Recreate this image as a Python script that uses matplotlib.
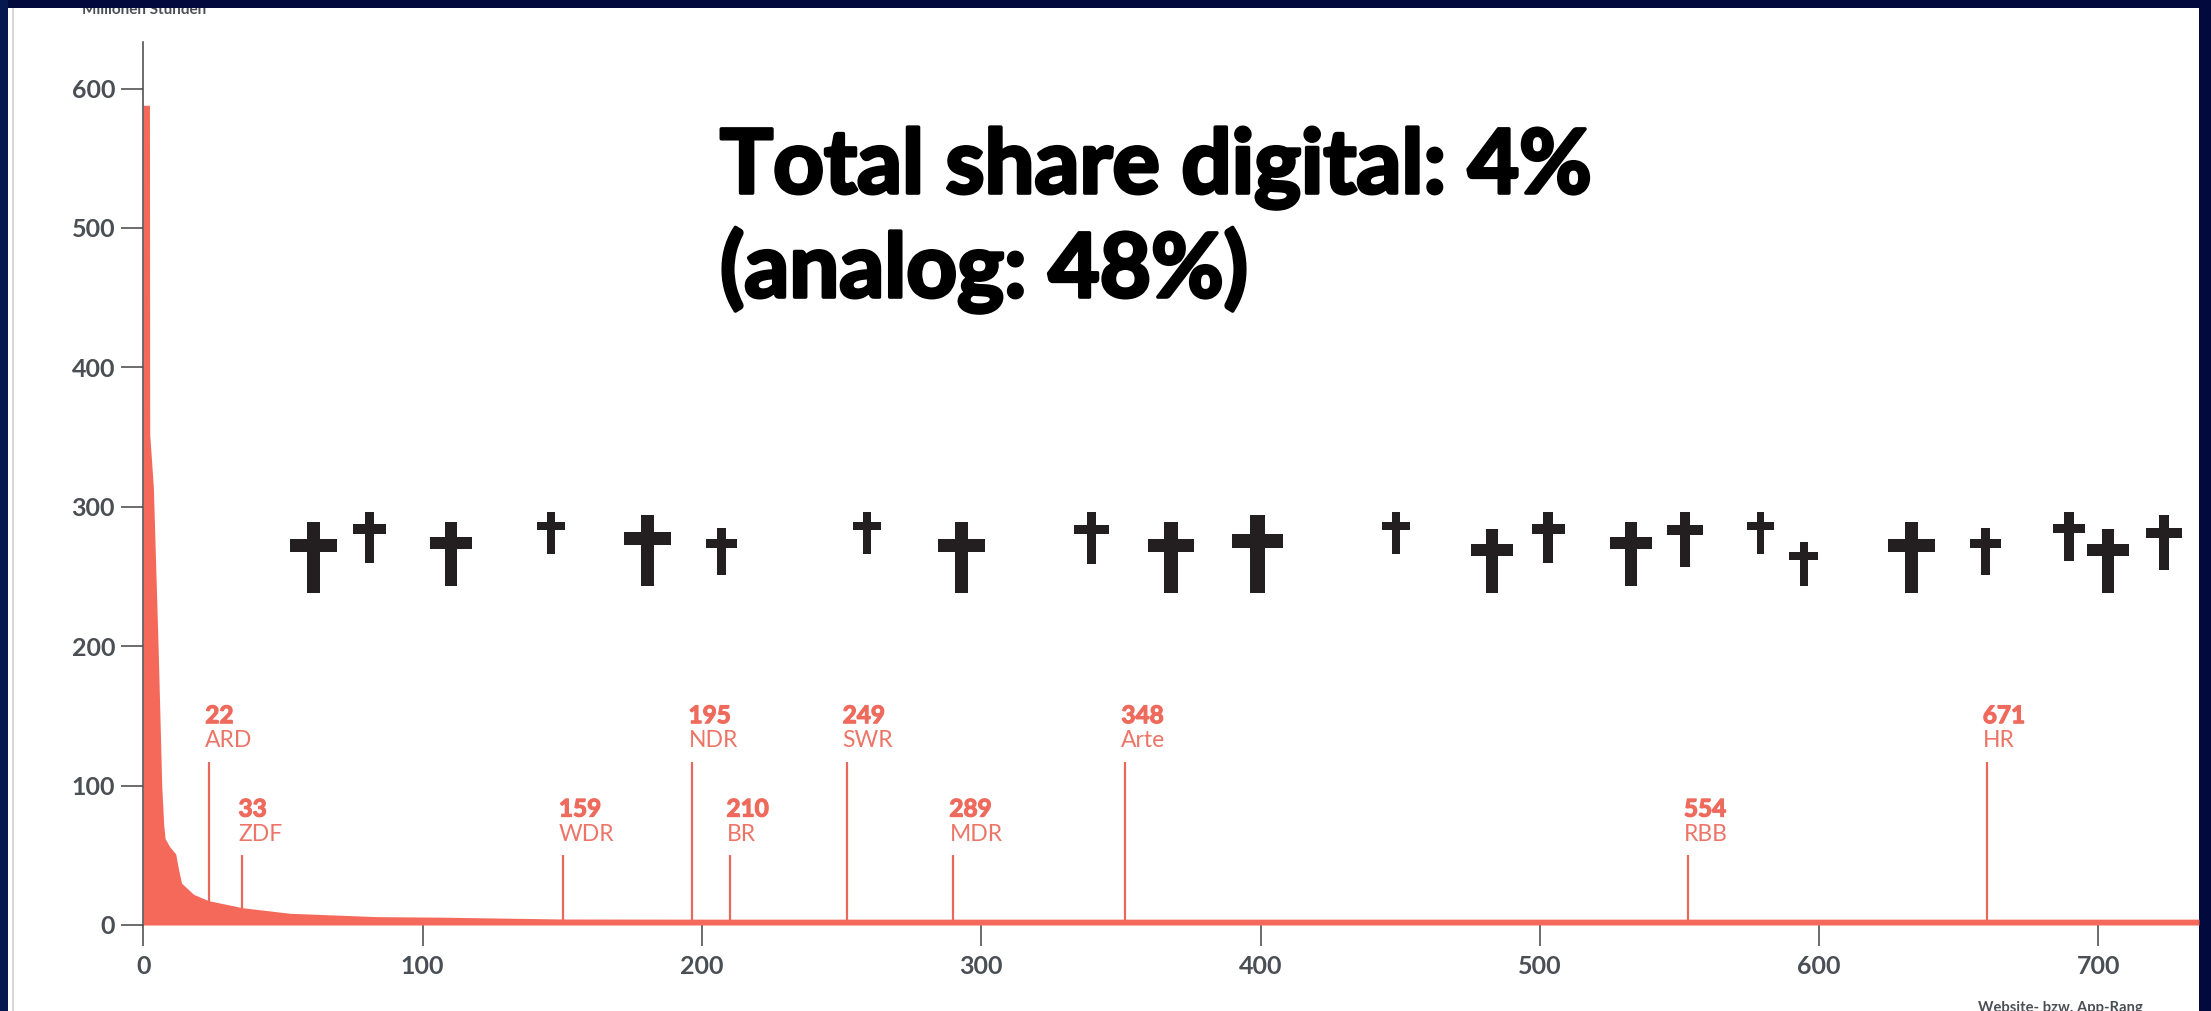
import matplotlib
matplotlib.use("Agg")
import matplotlib.pyplot as plt
import matplotlib.patheffects as pe
from matplotlib.patches import Rectangle

W, H = 2211, 1011

# reach curve, rank vs million hours
rank = [0, 2.2, 2.3, 3.6, 5.3, 6.6, 7.3, 7.8, 9.5, 11.6, 12.6, 13.7, 14.4, 18, 21.5, 23.5,
        35.5, 52.5, 83.5, 107, 150, 200, 300, 500, 736]
hours = [588, 588, 352, 314, 200, 100, 72, 62, 56, 51, 40, 30, 28.7, 22, 19, 17.4,
         12.4, 8.4, 6, 5.6, 4.3, 4.2, 4.2, 4.2, 4.2]

# public broadcasters: label rank, name, x position on the axis, line height
broadcaster_rank = ["22", "33", "159", "195", "210", "249", "289", "348", "554", "671"]
broadcaster_name = ["ARD", "ZDF", "WDR", "NDR", "BR", "SWR", "MDR", "Arte", "RBB", "HR"]
broadcaster_x = [23.6, 35.5, 150.2, 196.6, 210.2, 251.8, 290, 351.6, 553, 660]
broadcaster_top = [117, 50, 50, 117, 50, 117, 50, 117, 50, 117]

# crosses
cross_x = [61, 81, 110, 146, 180.5, 207, 259, 293, 339.5, 368, 399, 448.5, 483, 503,
           532.5, 552, 579, 594.5, 633, 659.5, 689.5, 703.5, 723.5]
cross_top = [289, 296, 289, 296, 294, 285, 296, 289, 296, 289, 294, 296, 284, 296,
             289, 296, 296, 275, 289, 285, 296, 284, 294]
cross_bottom = [238.5, 260, 243.5, 266, 243.5, 251, 266, 238.5, 259, 238.5, 238.5, 266, 238.5, 260,
                243.5, 257, 266, 243.5, 238.5, 251, 261, 238.5, 255]

x_ticks = [0, 100, 200, 300, 400, 500, 600, 700]
y_ticks = [0, 100, 200, 300, 400, 500, 600]

RED = "#f4695a"
LINE_RED = "#e8685b"
TEXT_RED = "#ee6a5c"
GREY = "#4a4f55"
FONT = "Lato"

fig = plt.figure(figsize=(W / 100, H / 100), dpi=100, facecolor="#02093c")

# dark slide shows a bit bluer on the left edge
fig.add_artist(Rectangle((0, 0), 8 / W, 1, transform=fig.transFigure,
                         facecolor="#05194f", edgecolor="none", zorder=-3))
# white sheet on the dark slide
panel = Rectangle((8 / W, 0), (2199 - 8) / W, (H - 8) / H, transform=fig.transFigure,
                  facecolor="white", edgecolor="none", zorder=-2)
fig.add_artist(panel)
fig.add_artist(Rectangle((12 / W, 0), 2 / W, (H - 8) / H, transform=fig.transFigure,
                         facecolor="#d8d8d8", edgecolor="none", zorder=-1))

ax = fig.add_axes([143.3 / W, (H - 925) / H, (2199 - 143.3) / W, (925 - 41.7) / H])
ax.patch.set_alpha(0)
ax.set_xlim(0, 736)
ax.set_ylim(0, 633.6)

for s in ["top", "right", "bottom"]:
    ax.spines[s].set_visible(False)
ax.spines["left"].set_color("#444444")
ax.spines["left"].set_linewidth(1.1)

ax.fill_between(rank, hours, 0, color=RED, linewidth=0, zorder=2)

for r, name, x, top in zip(broadcaster_rank, broadcaster_name, broadcaster_x, broadcaster_top):
    ax.plot([x, x], [0, top], color=LINE_RED, linewidth=1.6, zorder=1, solid_capstyle="butt")
    t = ax.text(x - 1.4, top + 27.8, r, color=TEXT_RED, fontsize=17.5, fontweight="bold", family=FONT, va="baseline")
    t.set_path_effects([pe.withStroke(linewidth=0.9, foreground=TEXT_RED)])
    ax.text(x - 1.4, top + 10.6, name, color="#ec7568", fontsize=16.5, family=FONT, va="baseline")

# crosses get drawn in data units; x units are twice as wide as y units in pixels
for x, top, bottom in zip(cross_x, cross_top, cross_bottom):
    h = top - bottom
    half_bar = h * 0.0475
    half_arm = h * 0.165
    arm_top = top - h * 0.24
    arm_bottom = top - h * 0.425
    ax.fill([x - half_bar, x + half_bar, x + half_bar, x + half_arm, x + half_arm, x + half_bar,
             x + half_bar, x - half_bar, x - half_bar, x - half_arm, x - half_arm, x - half_bar],
            [top, top, arm_top, arm_top, arm_bottom, arm_bottom,
             bottom, bottom, arm_bottom, arm_bottom, arm_top, arm_top],
            color="#231f20", linewidth=0, zorder=3)

ax.set_xticks(x_ticks)
ax.set_yticks(y_ticks)
ax.tick_params(axis="x", length=15, width=1.1, color="#444444", pad=6.5, labelsize=18, labelcolor=GREY)
ax.tick_params(axis="y", length=15.5, width=1.1, color="#444444", pad=4.8, labelsize=18, labelcolor=GREY)
for lab in ax.get_xticklabels() + ax.get_yticklabels():
    lab.set_family(FONT)
    lab.set_fontweight("bold")

# big overlay text, stroke because the installed Lato is not heavy enough
fat = [pe.withStroke(linewidth=2.6, foreground="black")]
fig.text(720 / W, (H - 193) / H, "Total share digital: 4%", color="black", fontsize=63.8,
         fontweight="bold", family=FONT, va="baseline", path_effects=fat)
fig.text(720 / W, (H - 297) / H, "(analog: 48%)", color="black", fontsize=63.8,
         fontweight="bold", family=FONT, va="baseline", path_effects=fat)

# axis titles are cut off by the sheet edge in the original
title = fig.text(82 / W, (H - 13.5) / H, "Millionen Stunden", color=GREY, fontsize=11,
                 fontweight="bold", family=FONT, va="baseline", clip_on=True)
title.set_clip_path(panel)
fig.text(1978 / W, (H - 1012) / H, "Website- bzw. App-Rang", color=GREY, fontsize=10.6,
         fontweight="bold", family=FONT, va="baseline")

fig.savefig("out.png", dpi=100, facecolor=fig.get_facecolor())
